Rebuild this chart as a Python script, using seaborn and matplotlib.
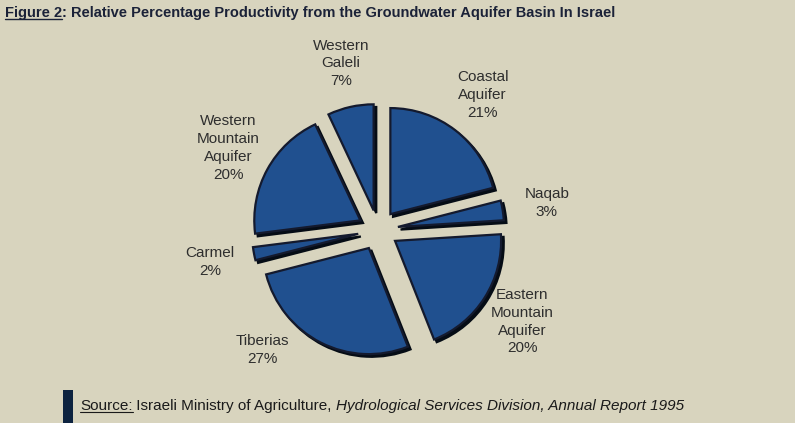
import matplotlib
matplotlib.use("Agg")
import matplotlib.pyplot as plt
import seaborn as sns
from matplotlib.patches import Rectangle
from matplotlib.lines import Line2D

# data, clockwise from 12 o'clock
basins = ["Coastal\nAquifer", "Naqab", "Eastern\nMountain\nAquifer", "Tiberias",
          "Carmel", "Western\nMountain\nAquifer", "Western\nGaleli"]
shares = [21, 3, 20, 27, 2, 20, 7]

bg = "#d8d4be"
navy = "#1b2238"
sns.set_theme(style="white", rc={"figure.facecolor": bg, "axes.facecolor": bg})
plt.rcParams["font.family"] = ["Liberation Sans", "DejaVu Sans"]

W, H = 795, 423
fig = plt.figure(figsize=(W / 100, H / 100), dpi=100)
ax = fig.add_axes([0.2887, 0.105, 297 / W, 297 / H])

labels = [f"{b}\n{s}%" for b, s in zip(basins, shares)]
wedges, texts = ax.pie(
    shares, labels=labels, startangle=90, counterclock=False,
    explode=[0.19] * len(shares), colors=["#20508f"] * len(shares),
    wedgeprops=dict(edgecolor="#141a2e", linewidth=1.6),
    shadow=dict(ox=0.018, oy=-0.018, shade=0.85, alpha=1),
    labeldistance=1.42,
    textprops=dict(fontsize=11, color="#2e2e2e", linespacing=1.35),
)
for t in texts:
    t.set_ha("center")
    t.set_va("center")
texts[3].set_position((-1.09, -1.13))
ax.set_xlim(-1.4, 1.4)
ax.set_ylim(-1.4, 1.4)
ax.set_aspect("equal")

# title with underlined "Figure 2"
fig.canvas.draw()
r = fig.canvas.get_renderer()
ty = 1 - 17 / H
t1 = fig.text(5 / W, ty, "Figure 2", fontsize=10.5, fontweight="bold", color=navy, va="baseline")
bb = t1.get_window_extent(r)
fig.text(bb.x1 / W, ty, ": Relative Percentage Productivity from the Groundwater Aquifer Basin In Israel",
         fontsize=10.5, fontweight="bold", color=navy, va="baseline")
uy = ty - 2.5 / H
fig.add_artist(Line2D([bb.x0 / W, bb.x1 / W], [uy, uy], color=navy, lw=1.0))

# source line
fig.add_artist(Rectangle((63 / W, 0), 10 / W, 33 / H, transform=fig.transFigure,
                         facecolor="#0d2340", edgecolor="none"))
sfam = ["Liberation Sans Narrow", "Liberation Sans"]
sy = 1 - 410 / H
x = 80
parts = [("Source:", "normal", True), (" Israeli Ministry of Agriculture, ", "normal", False),
         ("Hydrological Services Division, Annual Report 1995", "italic", False)]
for txt, style, under in parts:
    t = fig.text(x / W, sy, txt, fontsize=11, family=sfam, style=style, color="#1a1a1a", va="baseline")
    b = t.get_window_extent(r)
    if under:
        fig.add_artist(Line2D([b.x0 / W, b.x1 / W], [sy - 2 / H, sy - 2 / H], color="#1a1a1a", lw=0.8))
    x = b.x1

fig.savefig("out.png", dpi=100, facecolor=bg)
